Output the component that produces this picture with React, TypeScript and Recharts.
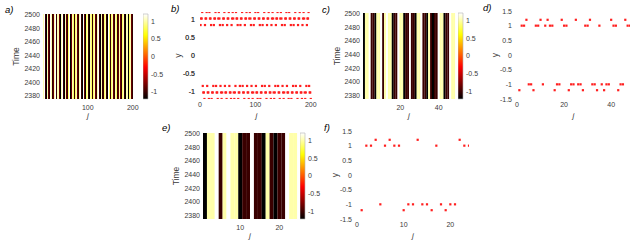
import React from "react";
import {
  BarChart,
  Bar,
  Cell,
  XAxis,
  YAxis,
  ScatterChart,
  Scatter,
  ReferenceArea,
} from "recharts";

// node states, 200 nodes (panels a, b)
const states200: number[] = [
  0.84, 1.02, 1.02, 1.2, -0.84, -1.02, -1.02, -1.2,
  0.84, 1.02, 1.02, 1.2, -0.84, -1.02, -1.02, -1.2,
  1.2, 1.02, 1.02, 0.84, -1.2, -1.02, -1.02, -0.84,
  0.84, 1.02, 1.02, 1.2, -0.84, -1.02, -1.02, -1.2,
  1.02, 1.2, 1.02, 0.84, -0.84, -1.02, -1.2, -1.02,
  0.84, 1.02, 1.02, 1.2, -0.84, -1.02, -1.02, -1.2,
  0.84, 1.02, 1.02, 1.2, -0.84, -1.02, -1.02, -1.2,
  0.84, 1.02, 1.2, 1.02, -1.02, -1.2, -1.02, -0.84,
  1.2, 1.02, 1.02, 0.84, -1.2, -1.02, -1.02, -0.84,
  0.84, 1.02, 1.02, 1.2, -0.84, -1.02, -1.02, -1.2,
  0.84, 1.02, 1.02, 1.2, -0.84, -1.02, -1.02, -1.2,
  1.02, 1.2, 1.02, 0.84, -0.84, -1.02, -1.2, -1.02,
  0.84, 1.02, 1.02, 1.2, -0.84, -1.02, -1.02, -1.2,
  1.2, 1.02, 1.02, 0.84, -1.2, -1.02, -1.02, -0.84,
  0.84, 1.02, 1.02, 1.2, -0.84, -1.02, -1.02, -1.2,
  0.84, 1.02, 1.02, 1.2, -0.84, -1.02, -1.02, -1.2,
  0.84, 1.02, 1.2, 1.02, -1.02, -1.2, -1.02, -0.84,
  0.84, 1.02, 1.02, 1.2, -0.84, -1.02, -1.02, -1.2,
  1.02, 1.2, 1.02, 0.84, -0.84, -1.02, -1.2, -1.02,
  0.84, 1.02, 1.02, 1.2, -0.84, -1.02, -1.02, -1.2,
  1.2, 1.02, 1.02, 0.84, -1.2, -1.02, -1.02, -0.84,
  0.84, 1.02, 1.02, 1.2, -0.84, -1.02, -1.02, -1.2,
  0.84, 1.02, 1.02, 1.2, -0.84, -1.02, -1.02, -1.2,
  0.84, 1.02, 1.2, 1.02, -1.02, -1.2, -1.02, -0.84,
  0.84, 1.02, 1.02, 1.2, -0.84, -1.02, -1.02, -1.2,
];

// 48 nodes (panels c, d)
const states48: number[] = [
  -1.2, 1, 1, 1.2, -1, -1, -1.2, 1, 1, 1.2, -1, 1,
  1.2, 1, 1, -1.2, -1, -1, 1.2, 1, 1, -1.2, -1, -1,
  1.2, -1, -1, -1.2, 1, 1, 1.2, -1, -1, -1.2, 1, -1,
  -1.2, -1, -1, 1.2, 1, 1, -1.2, -1, -1, 1.2, 1, 1,
];

// 24 nodes (panels e, f)
const states24: number[] = [
  -1.2, 1, 1, 1.2, -1, 1, 1.2, 1, 1, -1.2, -1, -1,
  1.2, -1, -1, -1.2, 1, -1, -1.2, -1, -1, 1.2, 1, 1,
];

const timeDomain = [2375, 2501];
const timeTicks = [2380, 2400, 2420, 2440, 2460, 2480, 2500];
const colorTicks = [-1, -0.5, 0, 0.5, 1];
const yTicksB = [-1, -0.5, 0, 0.5, 1];
const yTicksDF = [-1.5, -1, -0.5, 0, 0.5, 1, 1.5];

const FONT = "'Liberation Sans', Arial, sans-serif";
const TICK = { fontSize: 7, fill: "#3a3a3a", fontFamily: FONT };
const BOX = "#b4b4b4";

// matlab "hot" colormap over [-1.2, 1.2]
function hot(v: number) {
  const t = Math.max(0, Math.min(1, (v + 1.2) / 2.4));
  const r = Math.min(1, t / 0.375);
  const g = Math.max(0, Math.min(1, (t - 0.375) / 0.375));
  const b = Math.max(0, (t - 0.75) / 0.25);
  const c = (x: number) => Math.round(x * 255);
  return `rgb(${c(r)},${c(g)},${c(b)})`;
}

type HeatProps = {
  values: number[];
  x0: number;
  y0: number;
  x1: number;
  y1: number;
  xTicks: number[];
  labelX: number;
  crisp?: boolean;
};

function Heatmap({ values, x0, y0, x1, y1, xTicks, labelX, crisp }: HeatProps) {
  const data = values.map((v, i) => ({ j: i + 1, v, top: timeDomain[1] }));
  const yw = 40;
  const xh = 22;
  const w = x1 - x0;
  const h = y1 - y0;
  return (
    <div style={{ position: "absolute", left: x0 - yw, top: y0 - 2 }}>
      <BarChart
        width={yw + w + 10}
        height={h + xh + 2}
        data={data}
        margin={{ top: 2, right: 10, left: 0, bottom: 0 }}
        barCategoryGap={0}
        barGap={0}
      >
        <XAxis
          dataKey="j"
          type="category"
          interval={0}
          height={xh}
          tickLine={false}
          axisLine={false}
          tickSize={0}
          fontSize={7}
          tick={(p: any) =>
            xTicks.includes(p.payload.value) ? (
              <text x={p.x} y={p.y} dy={9} textAnchor="middle" {...TICK}>
                {p.payload.value}
              </text>
            ) : (
              <g />
            )
          }
          label={{
            value: "j",
            position: "insideBottom",
            offset: 3,
            fontSize: 8,
            fill: "#3a3a3a",
            fontFamily: FONT,
            style: { fontStyle: "italic" },
          }}
        />
        <YAxis
          type="number"
          domain={timeDomain}
          ticks={timeTicks}
          interval={0}
          allowDataOverflow
          width={yw}
          tickLine={false}
          axisLine={false}
          tickSize={0}
          tickMargin={3}
          fontSize={7}
          tick={TICK}
          label={{
            value: "Time",
            angle: -90,
            position: "insideLeft",
            offset: labelX,
            fontSize: 8.5,
            fill: "#3a3a3a",
            fontFamily: FONT,
            style: { textAnchor: "middle" },
          }}
        />
        <Bar dataKey="top" isAnimationActive={false} shapeRendering={crisp ? "crispEdges" : undefined}>
          {data.map((d) => (
            <Cell key={d.j} fill={hot(d.v)} />
          ))}
        </Bar>
        <ReferenceArea fill="none" fillOpacity={0} stroke={BOX} strokeWidth={0.8} />
      </BarChart>
    </div>
  );
}

function Colorbar({ x0, y0, y1, id }: { x0: number; y0: number; y1: number; id: string }) {
  const data = [{ k: "c", span: [-1.2, 1.2] }];
  const bw = 4.5;
  return (
    <div style={{ position: "absolute", left: x0, top: y0 - 2 }}>
      <BarChart
        width={bw + 26}
        height={y1 - y0 + 4}
        data={data}
        margin={{ top: 2, right: 0, left: 0, bottom: 2 }}
        barCategoryGap={0}
      >
        <defs>
          <linearGradient id={id} x1="0" y1="1" x2="0" y2="0">
            <stop offset="0" stopColor="#000000" />
            <stop offset="0.375" stopColor="#ff0000" />
            <stop offset="0.75" stopColor="#ffff00" />
            <stop offset="1" stopColor="#ffffff" />
          </linearGradient>
        </defs>
        <XAxis dataKey="k" hide />
        <YAxis
          orientation="right"
          type="number"
          domain={[-1.2, 1.2]}
          ticks={[...colorTicks]}
          interval={0}
          width={26}
          tickLine={false}
          axisLine={false}
          tickSize={0}
          tickMargin={3.5}
          fontSize={7}
          tick={TICK}
        />
        <Bar dataKey="span" fill={`url(#${id})`} stroke={BOX} strokeWidth={0.6} isAnimationActive={false} />
      </BarChart>
    </div>
  );
}

// y tick labels for panel b, built like the colour bars (right-hand axis, text anchored at its end)
function BTickStrip({ right, y0, y1 }: { right: number; y0: number; y1: number }) {
  const data = [{ k: "s", span: [-1.2, 1.2] }];
  return (
    <div style={{ position: "absolute", left: right - 30, top: y0 - 2 }}>
      <BarChart
        width={32}
        height={y1 - y0 + 4}
        data={data}
        margin={{ top: 2, right: 0, left: 0, bottom: 2 }}
      >
        <XAxis dataKey="k" hide />
        <YAxis
          orientation="right"
          type="number"
          domain={[-1.2, 1.2]}
          ticks={[...yTicksB]}
          interval={0}
          width={30}
          tickLine={false}
          axisLine={false}
          tickSize={0}
          tickMargin={2}
          fontSize={7}
          tick={(p: any) => (
            <text x={p.x + 26} y={p.y} dy={2.5} textAnchor="end" {...TICK}>
              {p.payload.value}
            </text>
          )}
        />
        <Bar dataKey="span" fill="none" isAnimationActive={false} />
      </BarChart>
    </div>
  );
}

type DotProps = {
  values: number[];
  x0: number;
  y0: number;
  x1: number;
  y1: number;
  xDomain: number[];
  xTicks: number[];
  yDomain: number[];
  yTicks: number[];
  labelX: number;
};

const dot = (p: any) => (
  <rect x={p.cx - 1.1} y={p.cy - 1.1} width={2.2} height={2.2} fill="#ff1f1f" />
);

function DotPanel({ values, x0, y0, x1, y1, xDomain, xTicks, yDomain, yTicks, labelX }: DotProps) {
  const data = values.map((v, i) => ({ j: i + 1, y: v }));
  const yw = 40;
  const xh = 22;
  return (
    <div style={{ position: "absolute", left: x0 - yw, top: y0 - 4 }}>
      <ScatterChart
        width={yw + (x1 - x0) + 8}
        height={y1 - y0 + xh + 4}
        margin={{ top: 4, right: 8, left: 0, bottom: 0 }}
      >
        <XAxis
          type="number"
          dataKey="j"
          domain={xDomain}
          ticks={xTicks}
          interval={0}
          allowDataOverflow
          height={xh}
          tickLine={false}
          axisLine={false}
          tickSize={0}
          tickMargin={3.5}
          fontSize={7}
          tick={TICK}
          label={{
            value: "j",
            position: "insideBottom",
            offset: 3,
            fontSize: 8,
            fill: "#3a3a3a",
            fontFamily: FONT,
            style: { fontStyle: "italic" },
          }}
        />
        <YAxis
          type="number"
          dataKey="y"
          domain={yDomain}
          ticks={[...yTicks]}
          interval={0}
          minTickGap={0}
          allowDataOverflow
          width={yw}
          tickLine={false}
          axisLine={false}
          tickSize={0}
          fontSize={7}
          tick={(p: any) => (
            <text x={p.x - 3} y={p.y} dy={2.5} textAnchor="end" {...TICK}>
              {p.payload.value}
            </text>
          )}
          label={{
            value: "y",
            angle: -90,
            position: "insideLeft",
            offset: labelX,
            fontSize: 8.5,
            fill: "#3a3a3a",
            fontFamily: FONT,
            style: { textAnchor: "middle" },
          }}
        />
        <ReferenceArea fill="none" fillOpacity={0} stroke={BOX} strokeWidth={0.8} />
        <Scatter data={data} shape={dot} isAnimationActive={false} />
      </ScatterChart>
    </div>
  );
}

function Tag({ x, y, text }: { x: number; y: number; text: string }) {
  return (
    <div
      style={{
        position: "absolute",
        left: x,
        top: y,
        fontFamily: FONT,
        fontStyle: "italic",
        fontSize: 9.5,
        lineHeight: "10px",
        color: "#000",
      }}
    >
      {text}
    </div>
  );
}

export default function App() {
  return (
    <div
      style={{
        position: "absolute",
        left: 0,
        top: 0,
        width: 639,
        height: 252,
        overflow: "hidden",
        background: "#fff",
      }}
    >
      <Heatmap values={states200} x0={43} y0={14} x1={133} y1={99} xTicks={[100, 200]} labelX={12.5} crisp />
      <Colorbar x0={143} y0={14} y1={99} id="hotA" />
      <Heatmap values={states48} x0={363} y0={13} x1={455} y1={99} xTicks={[20, 40]} labelX={13.5} />
      <Colorbar x0={458} y0={13} y1={99} id="hotC" />
      <DotPanel
        values={states48}
        x0={517}
        y0={11}
        x1={630}
        y1={99}
        xDomain={[0, 48]}
        xTicks={[0, 20, 40]}
        yDomain={[-1.5, 1.5]}
        yTicks={yTicksDF}
        labelX={18}
      />
      <Heatmap values={states24} x0={203} y0={133} x1={297} y1={219} xTicks={[10, 20]} labelX={13} />
      <Colorbar x0={300} y0={133} y1={219} id="hotE" />
      <DotPanel
        values={states24}
        x0={357}
        y0={131}
        x1={469}
        y1={219}
        xDomain={[0, 24]}
        xTicks={[0, 10, 20]}
        yDomain={[-1.5, 1.5]}
        yTicks={yTicksDF}
        labelX={18}
      />
      <Tag x={5} y={5} text="a)" />
      <Tag x={171} y={4} text="b)" />
      <Tag x={322} y={5} text="c)" />
      <Tag x={483} y={3} text="d)" />
      <Tag x={162} y={123} text="e)" />
      <Tag x={324} y={123} text="f)" />
      <DotPanel
        values={states200}
        x0={200}
        y0={12}
        x1={313}
        y1={99}
        xDomain={[0, 204]}
        xTicks={[0, 100, 200]}
        yDomain={[-1.2, 1.2]}
        yTicks={yTicksB}
        labelX={17.5}
      />
      <BTickStrip right={195} y0={12} y1={99} />
    </div>
  );
}
